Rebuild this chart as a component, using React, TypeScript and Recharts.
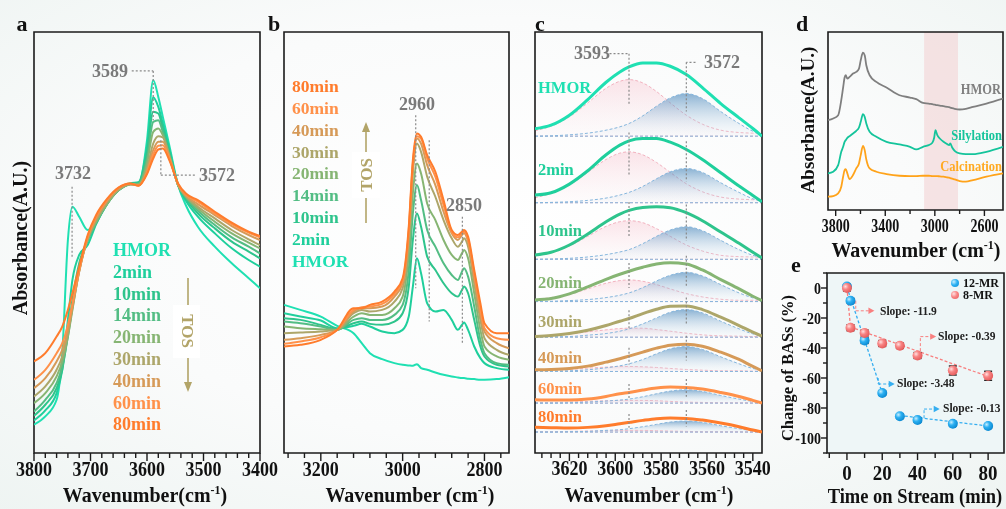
import React from "react";
import {
  ComposedChart,
  LineChart,
  Line,
  Area,
  XAxis,
  YAxis,
  ReferenceLine,
  ReferenceArea,
  ReferenceDot,
  Scatter,
  ErrorBar,
} from "recharts";

const SERIF = "'Liberation Serif', 'Times New Roman', Times, serif";

// ---------- shared series names / colours ----------
const TOS_LABELS = ["HMOR", "2min", "10min", "14min", "20min", "30min", "40min", "60min", "80min"];
const TOS_COLORS = ["#1fe0b2", "#1fcf9c", "#2ec48c", "#53bd84", "#86b573", "#ada66a", "#d69a58", "#ff914a", "#ff7c2c"];

// ---------- panel a : OH region (3800-3400) ----------
const WN_A = [3800, 3780, 3760, 3750, 3740, 3732, 3720, 3705, 3690, 3670, 3650, 3630, 3615, 3600, 3589, 3580, 3572, 3560, 3545, 3530, 3510, 3480, 3450, 3420, 3400];
const A_HMOR = [8.5, 11, 16, 30, 64, 74, 71, 67, 70, 75.5, 79, 81, 80.8, 94, 112, 107, 101, 92, 80.5, 74, 68, 62, 57, 52.5, 49.5];
const A_2 = [9.8, 12.8, 18, 25, 40, 52, 59.5, 62.5, 68.8, 75, 79, 81, 81.4, 92, 106.8, 104, 99, 91, 80.5, 75.5, 71, 66, 61.5, 58, 56];
const A_10 = [11.2, 14.5, 19.5, 25, 36, 46, 57, 64, 69, 75, 79, 80.8, 81.2, 90, 102.5, 102, 97.5, 90, 80.5, 76.2, 72, 67.5, 63.5, 60.5, 58.5];
const A_14 = [12.5, 16, 21, 26, 35, 44, 56, 64, 69.2, 75, 79, 80.8, 81, 88.5, 99.5, 100, 96.5, 89.5, 80.5, 76.5, 72.8, 68.5, 64.8, 62, 60];
const A_20 = [15, 18, 23, 27.5, 35, 43, 55, 64, 69.5, 75, 79, 80.7, 80.8, 87, 96.5, 97.5, 95.5, 89, 80.5, 76.8, 73.5, 69.5, 66, 63.2, 61.5];
const A_30 = [17, 20, 25, 29, 36, 43.5, 54.5, 64.5, 70, 75.5, 79.2, 80.7, 80.5, 85.5, 93, 95.2, 94.8, 89, 80.5, 77, 74, 70.5, 67, 64.2, 62.5];
const A_40 = [19.5, 22.5, 27.5, 31, 37, 44, 54.5, 64.8, 70.5, 76, 79.5, 80.8, 80.4, 84.8, 91, 93.5, 93.5, 88.5, 80.7, 77.2, 74.8, 71.5, 68.2, 65.5, 64];
const A_60 = [22, 25, 30, 33, 38.5, 44.8, 54.8, 65, 71, 76.2, 79.7, 81, 80.4, 84.2, 89.7, 92.3, 92.5, 88.2, 80.8, 77.5, 75.5, 72, 68.8, 66.2, 64.8];
const A_80 = [27.5, 30, 35, 38, 43, 48, 56, 65.5, 71.5, 76.5, 79.8, 81, 80.3, 83.8, 88.5, 91.2, 91.5, 87.8, 81, 77.8, 76, 72.5, 69.2, 66.5, 65.2];
const TICKS_A = [3800, 3780, 3760, 3740, 3720, 3700, 3680, 3660, 3640, 3620, 3600, 3580, 3560, 3540, 3520, 3500, 3480, 3460, 3440, 3420, 3400];

// ---------- panel b : CH region ----------
const WN_B = [3290, 3250, 3200, 3160, 3120, 3100, 3080, 3050, 3020, 3000, 2985, 2975, 2965, 2955, 2940, 2920, 2900, 2880, 2865, 2855, 2850, 2840, 2825, 2810, 2800, 2770, 2740];
const B_HMOR = [44.5, 43, 41, 38.2, 36, 33, 30, 28.2, 27, 26.5, 26.3, 26.2, 26.7, 25.5, 25, 24.2, 23.5, 23, 22.7, 22.5, 22.5, 22.3, 22.2, 22, 22, 22.2, 22.8];
const B_2 = [42, 41, 39.8, 37.5, 38.2, 38.8, 38, 36.5, 36, 37, 41, 50, 58.5, 54, 45, 42.5, 43, 40, 37, 38.5, 39.2, 37, 32, 28.5, 27, 25.5, 25];
const B_10 = [40.5, 40, 38.5, 37.2, 39, 39.5, 38.8, 38.5, 39.5, 42, 50, 64, 72, 68, 59, 55, 51, 48, 47, 49, 50, 48, 40, 32, 29, 26.5, 26];
const B_14 = [39.5, 39, 38, 37, 40, 40.5, 40, 40, 41.5, 44.5, 55, 72, 80.5, 76, 67, 62, 57, 53.5, 52, 54.5, 55.5, 53, 44, 34, 30, 27, 26.5];
const B_20 = [38, 37.5, 37.2, 37, 41, 42, 41.5, 41.5, 43.5, 47, 60, 78, 87, 84, 75, 70, 64, 59.5, 58, 60, 61, 58.5, 48, 37, 32, 29, 28];
const B_30 = [36, 36.2, 36.5, 37, 42, 43, 42.5, 43, 45.5, 49.5, 64, 84, 93, 90.5, 83, 77, 70, 64.5, 62, 63.5, 64.5, 62, 51, 40, 34.5, 31, 29.5];
const B_40 = [34, 34.5, 35.5, 37, 42.5, 43.5, 43.5, 44, 47, 51, 66, 86, 94.5, 93, 86.5, 80.5, 72.5, 66, 64, 65.5, 66, 63.5, 53, 42, 36.5, 33, 31.5];
const B_60 = [32.8, 33.5, 34.8, 37, 43, 43.8, 44, 44.8, 47.8, 51.8, 67, 87, 95.2, 94.5, 88.5, 83, 74.5, 66.5, 64.8, 66, 66.5, 64.2, 54, 43.5, 37.5, 34.5, 34];
const B_80 = [32, 32.5, 34, 37, 43.5, 43.5, 44.5, 45.5, 48.5, 52.5, 68, 88, 96, 95, 89.5, 84.5, 76, 67, 65.5, 66.5, 67, 65, 55, 45, 39, 36, 36];
const TICKS_B = [3280, 3240, 3200, 3160, 3120, 3080, 3040, 3000, 2960, 2920, 2880, 2840, 2800, 2760];

// ---------- panel c : deconvoluted bands ----------
const WN_C = [3635, 3628, 3620, 3612, 3604, 3598, 3594, 3588, 3582, 3576, 3569, 3562, 3554, 3546, 3540, 3536];
const C_ROWS = ["HMOR", "2min", "10min", "20min", "30min", "40min", "60min", "80min"];
const C_COLORS = ["#1fe0b2", "#1fcf9c", "#2ec48c", "#86b573", "#ada66a", "#d69a58", "#ff914a", "#ff7c2c"];
const C_BASE = [95.2, 75.2, 58.2, 45.5, 34.8, 24.5, 15, 6.3];
const C_MAIN = [
  [2.2, 3.3, 6.3, 11.0, 16.2, 19.3, 20.8, 22.0, 22.0, 21.0, 18.5, 14.6, 9.8, 5.5, 2.3, 0],
  [2.3, 3.0, 5.6, 9.6, 14.4, 17.3, 18.6, 19.3, 19.3, 18.2, 16.0, 13.0, 9.0, 5.0, 2.2, 0.3],
  [1.3, 2.1, 4.3, 7.6, 11.3, 13.6, 14.7, 15.6, 15.8, 15.5, 14.0, 11.6, 8.2, 4.8, 2.1, 0.4],
  [0.5, 0.9, 2.3, 4.4, 6.7, 8.2, 9.1, 10.3, 11.3, 11.7, 11.3, 9.5, 6.6, 3.8, 1.6, 0.3],
  [0.2, 0.5, 1.1, 2.1, 3.5, 4.8, 5.6, 7.1, 8.4, 9.3, 9.4, 8.3, 6.0, 3.5, 1.5, 0.3],
  [0.5, 0.6, 0.9, 1.6, 2.8, 3.8, 4.6, 5.8, 7.0, 7.9, 8.2, 7.6, 5.8, 3.6, 1.5, 0.2],
  [1.0, 0.9, 0.9, 1.2, 2.0, 2.8, 3.2, 3.9, 4.5, 4.8, 4.7, 4.2, 3.2, 2.0, 0.8, 0],
  [1.4, 1.3, 1.2, 1.4, 1.9, 2.5, 2.9, 3.5, 4.0, 4.2, 4.1, 3.6, 2.7, 1.6, 0.6, 0],
];
const C_PINK = [
  [1.6, 3.0, 5.8, 10.0, 14.4, 16.5, 17.0, 16.0, 13.4, 10.0, 6.3, 3.6, 1.8, 1.1, 0.9, 0.8],
  [1.5, 2.8, 5.3, 9.1, 13.0, 14.9, 15.3, 14.4, 12.1, 9.1, 5.7, 3.3, 1.7, 1.1, 0.9, 0.8],
  [1.1, 2.1, 4.0, 6.9, 9.9, 11.3, 11.6, 11.0, 9.2, 6.9, 4.3, 2.5, 1.2, 0.8, 0.7, 0.6],
  [0.6, 1.2, 2.2, 3.8, 5.5, 6.3, 6.5, 6.1, 5.1, 3.8, 2.4, 1.4, 0.7, 0.4, 0.4, 0.3],
  [0.3, 0.6, 1.0, 1.6, 2.2, 2.6, 2.7, 2.7, 2.3, 1.8, 1.2, 0.7, 0.4, 0.3, 0.2, 0.2],
  [0.2, 0.4, 0.6, 1.0, 1.3, 1.5, 1.5, 1.4, 1.2, 0.9, 0.6, 0.4, 0.2, 0.2, 0.1, 0.1],
  [0.1, 0.2, 0.3, 0.5, 0.7, 0.8, 0.8, 0.8, 0.7, 0.5, 0.3, 0.2, 0.1, 0.1, 0.1, 0.1],
  [0.1, 0.1, 0.2, 0.3, 0.4, 0.5, 0.5, 0.5, 0.4, 0.3, 0.2, 0.1, 0.1, 0.1, 0, 0],
];
const C_BLUE = [
  [0, 0.1, 0.4, 0.9, 1.8, 2.8, 3.8, 6.1, 9.0, 11.5, 12.8, 11.3, 7.4, 3.8, 1.5, 0.6],
  [0, 0.1, 0.3, 0.7, 1.4, 2.3, 3.1, 4.9, 7.2, 9.3, 10.3, 9.1, 6.0, 3.1, 1.2, 0.5],
  [0, 0.1, 0.3, 0.7, 1.4, 2.2, 2.9, 4.7, 6.9, 8.8, 9.8, 8.6, 5.7, 2.9, 1.2, 0.5],
  [0, 0.1, 0.3, 0.6, 1.2, 1.9, 2.6, 4.2, 6.2, 7.9, 8.8, 7.7, 5.1, 2.6, 1.1, 0.4],
  [0, 0.1, 0.2, 0.6, 1.1, 1.8, 2.5, 4.0, 5.8, 7.5, 8.3, 7.3, 4.8, 2.5, 1.0, 0.4],
  [0, 0.1, 0.2, 0.5, 1.1, 1.7, 2.3, 3.6, 5.3, 6.8, 7.5, 6.6, 4.4, 2.3, 0.9, 0.4],
  [0, 0, 0.1, 0.3, 0.6, 0.9, 1.2, 1.9, 2.8, 3.6, 4.0, 3.5, 2.3, 1.2, 0.5, 0.2],
  [0, 0, 0.1, 0.2, 0.5, 0.7, 1.0, 1.6, 2.3, 3.0, 3.3, 2.9, 1.9, 1.0, 0.4, 0.2],
];
const TICKS_C = [3632, 3628, 3624, 3620, 3616, 3612, 3608, 3604, 3600, 3596, 3592, 3588, 3584, 3580, 3576, 3572, 3568, 3564, 3560, 3556, 3552, 3548, 3544, 3540];

// ---------- panel d : full spectra ----------
const WN_D = [3862, 3820, 3780, 3755, 3740, 3728, 3719, 3706, 3688, 3660, 3634, 3612, 3598, 3580, 3566, 3553, 3526, 3472, 3390, 3285, 3200, 3150, 3095, 3050, 3020, 3005, 2995, 2980, 2960, 2930, 2900, 2885, 2875, 2860, 2840, 2800, 2750, 2692, 2584, 2450];
const D_HMOR = [27, 27.5, 28.5, 33, 36.8, 39.8, 40.5, 39.5, 40, 41, 41.5, 42.5, 45, 47.3, 46.5, 43.5, 40.5, 38.5, 36.8, 34.5, 33.8, 33.3, 32.2, 32, 31.8, 31.7, 31.6, 31.5, 31.4, 31.2, 31, 30.9, 30.8, 30.6, 30.4, 30.2, 30.4, 31, 32, 33.5];
const D_SIL = [11, 11.5, 13.5, 17.5, 19, 20.5, 21, 21.7, 22.2, 23, 23.8, 24.8, 26.5, 28.8, 28, 26, 23.5, 22, 20.5, 19.7, 19, 18.2, 19, 19.5, 20.2, 21.8, 24, 22.5, 21.5, 20.5, 19.8, 19.5, 20, 18.8, 17.8, 17, 16.8, 16.8, 17.5, 19];
const D_CAL = [4, 4.2, 5, 7, 10, 12, 12.3, 11, 9.3, 10.5, 12.5, 14, 16.5, 19.3, 18, 15.2, 12.5, 11.5, 10.8, 10.3, 10.2, 10.2, 10.3, 10.3, 10.2, 10.2, 10.2, 10.2, 10.1, 10, 9.8, 9.7, 9.6, 9.4, 9.2, 8.7, 8.5, 9, 10, 11];
const TICKS_D = [3800, 3600, 3400, 3200, 3000, 2800, 2600];

// ---------- panel e : BAS change ----------
const TIME = [0, 2, 10, 20, 30, 40, 60, 80];
const MR12 = [1, -8.5, -35, -70, -85.5, -88, -90.5, -92];
const MR12_ERR = [1.5, 1.5, 2, 1.5, 1.5, 1.5, 1.5, 1.5];
const MR8 = [0, -26.5, -30, -37, -38.5, -45, -55, -58.5];
const MR8_ERR = [2, 2, 2, 2, 1.8, 2, 3, 3];
const FIT12_A = [{ t: 0, v: 0.5 }, { t: 20, v: -70 }];
const FIT12_B = [{ t: 30, v: -85 }, { t: 80, v: -92 }];
const FIT8_A = [{ t: 0, v: 0 }, { t: 2, v: -26 }];
const FIT8_B = [{ t: 2, v: -26 }, { t: 80, v: -59 }];
const TICKS_EX = [-10, 0, 10, 20, 30, 40, 50, 60, 70, 80];
const TICKS_EY = [-110, -100, -90, -80, -70, -60, -50, -40, -30, -20, -10, 0, 10];

// ---------- build tables ----------
const A_SERIES = [A_HMOR, A_2, A_10, A_14, A_20, A_30, A_40, A_60, A_80];
const B_SERIES = [B_HMOR, B_2, B_10, B_14, B_20, B_30, B_40, B_60, B_80];
const dataA = WN_A.map((wn, i) => {
  const r: any = { wn };
  A_SERIES.forEach((s, k) => (r["s" + k] = s[i]));
  return r;
});
const dataB = WN_B.map((wn, i) => {
  const r: any = { wn };
  B_SERIES.forEach((s, k) => (r["s" + k] = s[i]));
  return r;
});
const dataC = WN_C.map((wn, i) => {
  const r: any = { wn };
  C_BASE.forEach((b, k) => {
    r["m" + k] = b + C_MAIN[k][i];
    r["p" + k] = [b, b + C_PINK[k][i]];
    r["b" + k] = [b, b + C_BLUE[k][i]];
  });
  return r;
});
const dataD = WN_D.map((wn, i) => ({ wn, hmor: D_HMOR[i], sil: D_SIL[i], cal: D_CAL[i] }));
const dataMR12 = TIME.map((t, i) => ({ t, v: MR12[i], err: MR12_ERR[i] }));
const dataMR8 = TIME.map((t, i) => ({ t, v: MR8[i], err: MR8_ERR[i] }));

// ---------- helpers ----------
const tickX =
  (majorEvery: number, origin: number, size: number, gap: number, sy: number, majorLen = 7, minorLen = 4) =>
  (p: any) => {
    const v = Number(p.payload.value);
    const major = Math.abs((v - origin) % majorEvery) < 1e-6;
    return (
      <g>
        <line x1={p.x} x2={p.x} y1={p.y} y2={p.y + (major ? majorLen : minorLen)} stroke="#1b1b1b" strokeWidth={1.4} />
        {major && (
          <text
            transform={`translate(${p.x},${p.y + gap}) scale(1,${sy})`}
            textAnchor="middle"
            dominantBaseline="central"
            fontFamily={SERIF}
            fontWeight={700}
            fontSize={size}
            fill="#111"
          >
            {v}
          </text>
        )}
      </g>
    );
  };

const tickYE = (p: any) => {
  const v = Number(p.payload.value);
  const major = v % 20 === 0 && v <= 0 && v >= -100;
  return (
    <g>
      <line x1={p.x} x2={p.x - (major ? 6 : 4)} y1={p.y} y2={p.y} stroke="#1b1b1b" strokeWidth={1.4} />
      {major && (
        <text
          transform={`translate(${p.x - 6},${p.y}) scale(1,1.2)`}
          textAnchor="end"
          dominantBaseline="central"
          fontFamily={SERIF}
          fontWeight={700}
          fontSize={14}
          fill="#111"
        >
          {v}
        </text>
      )}
    </g>
  );
};

const arrowHead = (color: string) => (p: any) =>
  <path d={`M${p.cx - 5},${p.cy - 3.2}L${p.cx + 1},${p.cy}L${p.cx - 5},${p.cy + 3.2}Z`} fill={color} />;

type LP = {
  x: number;
  y: number;
  size: number;
  color?: string;
  anchor?: "start" | "middle" | "end";
  rotate?: number;
  sy?: number;
  children: React.ReactNode;
};
const Label = ({ x, y, size, color = "#111", anchor = "middle", rotate = 0, sy = 1, children }: LP) => {
  const tx = anchor === "start" ? "0%" : anchor === "end" ? "-100%" : "-50%";
  return (
    <div
      style={{
        position: "absolute",
        left: x,
        top: y,
        transform: `translate(${tx}, -50%) rotate(${rotate}deg) scale(1, ${sy})`,
        fontFamily: SERIF,
        fontWeight: 700,
        fontSize: size,
        color,
        whiteSpace: "nowrap",
        lineHeight: 1,
      }}
    >
      {children}
    </div>
  );
};

const Cm = ({ space = true }: { space?: boolean }) => (
  <>
    Wavenumber{space ? " " : ""}(cm<span style={{ fontSize: "0.6em", verticalAlign: "0.65em" }}>-1</span>)
  </>
);

const DOT = { stroke: "#8a8a8a", strokeDasharray: "2 2", strokeWidth: 1.2, ifOverflow: "visible" as const };
const FRAME = { fill: "none", stroke: "#1b1b1b", strokeWidth: 1.6, ifOverflow: "visible" as const };

const App = () => {
  return (
    <div
      style={{
        position: "fixed",
        left: 0,
        top: 0,
        width: 1006,
        height: 509,
        overflow: "hidden",
        background: "radial-gradient(ellipse 75% 75% at 50% 45%, #ffffff 0%, #fafbfb 55%, #eef4f2 100%)",
      }}
    >
      {/* panel e plot background */}
      <div style={{ position: "absolute", left: 827, top: 273, width: 177, height: 180, background: "#eef6f7" }} />

      {/* ---------- a ---------- */}
      <div style={{ position: "absolute", left: 0, top: 0 }}>
        <LineChart width={290} height={509} data={dataA} margin={{ top: 32, left: 34, right: 30, bottom: 0 }}>
          <XAxis
            type="number"
            dataKey="wn"
            domain={[3400, 3800]}
            reversed
            allowDataOverflow
            ticks={TICKS_A}
            interval={0}
            tickLine={false}
            axisLine={false}
            tickSize={0}
            tickMargin={0}
            height={56}
            tick={tickX(100, 3400, 18, 16, 1.15, 8, 5)}
          />
          <YAxis hide type="number" domain={[0, 126.5]} allowDataOverflow />
          {TOS_LABELS.map((n, k) => (
            <Line key={n} type="monotone" dataKey={"s" + k} stroke={TOS_COLORS[k]} strokeWidth={2} dot={false} activeDot={false} isAnimationActive={false} />
          ))}
          <ReferenceLine segment={[{ x: 3627, y: 114.8 }, { x: 3589, y: 114.8 }]} {...DOT} />
          <ReferenceLine segment={[{ x: 3589, y: 114.8 }, { x: 3589, y: 100 }]} {...DOT} />
          <ReferenceLine segment={[{ x: 3575.5, y: 94 }, { x: 3575.5, y: 83.5 }]} {...DOT} />
          <ReferenceLine segment={[{ x: 3575.5, y: 83.5 }, { x: 3512, y: 83.5 }]} {...DOT} />
          <ReferenceLine segment={[{ x: 3732.6, y: 80 }, { x: 3732.6, y: 58.5 }]} {...DOT} />
          <ReferenceArea x1={3400} x2={3800} y1={0} y2={126.5} {...FRAME} />
        </LineChart>
      </div>

      {/* ---------- b ---------- */}
      <div style={{ position: "absolute", left: 270, top: 0 }}>
        <LineChart width={259} height={509} data={dataB} margin={{ top: 32, left: 14, right: 20, bottom: 0 }}>
          <XAxis
            type="number"
            dataKey="wn"
            domain={[2740, 3290]}
            reversed
            allowDataOverflow
            ticks={TICKS_B}
            interval={0}
            tickLine={false}
            axisLine={false}
            tickSize={0}
            tickMargin={0}
            height={56}
            tick={tickX(200, 2800, 18, 16, 1.15, 8, 5)}
          />
          <YAxis hide type="number" domain={[0, 126.5]} allowDataOverflow />
          {TOS_LABELS.map((n, k) => (
            <Line key={n} type="monotone" dataKey={"s" + k} stroke={TOS_COLORS[k]} strokeWidth={2} dot={false} activeDot={false} isAnimationActive={false} />
          ))}
          <ReferenceLine segment={[{ x: 2968, y: 101.5 }, { x: 2968, y: 49.5 }]} {...DOT} />
          <ReferenceLine segment={[{ x: 2935, y: 94 }, { x: 2935, y: 39.5 }]} {...DOT} />
          <ReferenceLine segment={[{ x: 2854, y: 71 }, { x: 2854, y: 32.5 }]} {...DOT} />
          <ReferenceArea x1={2740} x2={3290} y1={0} y2={126.5} {...FRAME} />
        </LineChart>
      </div>

      {/* ---------- c ---------- */}
      <div style={{ position: "absolute", left: 525, top: 0 }}>
        <ComposedChart width={257} height={509} data={dataC} margin={{ top: 32, left: 10, right: 20, bottom: 0 }}>
          <defs>
            <linearGradient id="pinkFill" x1="0" y1="0" x2="0" y2="1">
              <stop offset="0%" stopColor="#f8c3cf" stopOpacity={0.75} />
              <stop offset="100%" stopColor="#fbe8ec" stopOpacity={0.2} />
            </linearGradient>
            <linearGradient id="blueFill" x1="0" y1="0" x2="0" y2="1">
              <stop offset="0%" stopColor="#3479b3" stopOpacity={0.95} />
              <stop offset="100%" stopColor="#dce9f4" stopOpacity={0.15} />
            </linearGradient>
          </defs>
          <XAxis
            type="number"
            dataKey="wn"
            domain={[3536, 3635]}
            reversed
            allowDataOverflow
            ticks={TICKS_C}
            interval={0}
            tickLine={false}
            axisLine={false}
            tickSize={0}
            tickMargin={0}
            height={56}
            tick={tickX(20, 3540, 18, 15, 1.15, 8, 5)}
          />
          <YAxis hide type="number" domain={[0, 126.5]} allowDataOverflow />
          {C_ROWS.map((n, k) => (
            <Area
              key={"p" + n}
              type="monotone"
              dataKey={"p" + k}
              fill="url(#pinkFill)"
              stroke="#f2b3c0"
              strokeDasharray="3 2"
              strokeWidth={1}
              dot={false}
              activeDot={false}
              isAnimationActive={false}
            />
          ))}
          {C_ROWS.map((n, k) => (
            <Area
              key={"b" + n}
              type="monotone"
              dataKey={"b" + k}
              fill="url(#blueFill)"
              stroke="#86b6dd"
              strokeDasharray="3 2"
              strokeWidth={1}
              dot={false}
              activeDot={false}
              isAnimationActive={false}
            />
          ))}
          {C_ROWS.map((n, k) => (
            <Line key={"m" + n} type="monotone" dataKey={"m" + k} stroke={C_COLORS[k]} strokeWidth={3} dot={false} activeDot={false} isAnimationActive={false} />
          ))}
          {C_ROWS.map((n, k) => {
            const b = C_BASE[k];
            const h1 = C_MAIN[k][6];
            const h2 = C_MAIN[k][10];
            return (
              <React.Fragment key={"g" + n}>
                <ReferenceLine segment={[{ x: 3594, y: k === 0 ? 120 : b + h1 + 2.5 }, { x: 3594, y: b + 0.45 * h1 }]} {...DOT} />
                <ReferenceLine segment={[{ x: 3569, y: k === 0 ? 117.4 : b + h2 + 2.5 }, { x: 3569, y: b + 0.4 * h2 }]} {...DOT} />
              </React.Fragment>
            );
          })}
          <ReferenceLine segment={[{ x: 3602.5, y: 120 }, { x: 3594, y: 120 }]} {...DOT} />
          <ReferenceLine segment={[{ x: 3565, y: 117.4 }, { x: 3569, y: 117.4 }]} {...DOT} />
          <ReferenceArea x1={3536} x2={3635} y1={0} y2={126.5} {...FRAME} />
        </ComposedChart>
      </div>

      {/* ---------- d ---------- */}
      <div style={{ position: "absolute", left: 800, top: 0 }}>
        <LineChart width={206} height={260} data={dataD} margin={{ top: 32, left: 28, right: 3, bottom: 0 }}>
          <XAxis
            type="number"
            dataKey="wn"
            domain={[2450, 3862]}
            reversed
            allowDataOverflow
            ticks={TICKS_D}
            interval={0}
            tickLine={false}
            axisLine={false}
            tickSize={0}
            tickMargin={0}
            height={50}
            tick={tickX(400, 3800, 14, 16, 1.3, 6, 4)}
          />
          <YAxis hide type="number" domain={[0, 53.5]} allowDataOverflow />
          <ReferenceArea x1={2813} x2={3087} y1={0} y2={53.5} fill="#f3cfd2" fillOpacity={0.55} stroke="none" />
          <Line type="monotone" dataKey="hmor" stroke="#7f7f7f" strokeWidth={1.8} dot={false} activeDot={false} isAnimationActive={false} />
          <Line type="monotone" dataKey="sil" stroke="#14c49b" strokeWidth={1.8} dot={false} activeDot={false} isAnimationActive={false} />
          <Line type="monotone" dataKey="cal" stroke="#ffa31a" strokeWidth={1.8} dot={false} activeDot={false} isAnimationActive={false} />
          <ReferenceArea x1={2450} x2={3862} y1={0} y2={53.5} {...FRAME} />
        </LineChart>
      </div>

      {/* ---------- e ---------- */}
      <div style={{ position: "absolute", left: 780, top: 250 }}>
        <ComposedChart width={226} height={259} margin={{ top: 23, left: 0, right: 2, bottom: 0 }}>
          <defs>
            <radialGradient id="gBlue" cx="35%" cy="35%" r="65%">
              <stop offset="0%" stopColor="#c8efff" />
              <stop offset="45%" stopColor="#2cb0f2" />
              <stop offset="100%" stopColor="#0d8cd4" />
            </radialGradient>
            <radialGradient id="gRed" cx="35%" cy="35%" r="65%">
              <stop offset="0%" stopColor="#ffe0e0" />
              <stop offset="45%" stopColor="#f88484" />
              <stop offset="100%" stopColor="#e65d5d" />
            </radialGradient>
          </defs>
          <XAxis
            type="number"
            dataKey="t"
            domain={[-11.3, 89]}
            allowDataOverflow
            ticks={TICKS_EX}
            interval={0}
            tickLine={false}
            axisLine={false}
            tickSize={0}
            tickMargin={0}
            height={56}
            tick={tickX(20, 0, 19, 20, 1.15, 7, 5)}
          />
          <YAxis
            type="number"
            domain={[-110, 10]}
            allowDataOverflow
            ticks={TICKS_EY}
            interval={0}
            tickLine={false}
            axisLine={false}
            tickSize={0}
            tickMargin={0}
            width={47}
            tick={tickYE}
          />
          <Line data={FIT12_A} dataKey="v" stroke="#35aef0" strokeWidth={1.3} strokeDasharray="3 2" dot={false} activeDot={false} isAnimationActive={false} />
          <Line data={FIT12_B} dataKey="v" stroke="#35aef0" strokeWidth={1.3} strokeDasharray="3 2" dot={false} activeDot={false} isAnimationActive={false} />
          <Line data={FIT8_A} dataKey="v" stroke="#f87f7f" strokeWidth={1.3} strokeDasharray="3 2" dot={false} activeDot={false} isAnimationActive={false} />
          <Line data={FIT8_B} dataKey="v" stroke="#f87f7f" strokeWidth={1.3} strokeDasharray="3 2" dot={false} activeDot={false} isAnimationActive={false} />
          <Scatter
            data={dataMR12}
            dataKey="v"
            isAnimationActive={false}
            shape={(p: any) => <circle cx={p.cx} cy={p.cy} r={5} fill="url(#gBlue)" />}
          >
            <ErrorBar dataKey="err" direction="y" width={4} stroke="#111" strokeWidth={1.3} />
          </Scatter>
          <Scatter
            data={dataMR8}
            dataKey="v"
            isAnimationActive={false}
            shape={(p: any) => <circle cx={p.cx} cy={p.cy} r={5} fill="url(#gRed)" />}
          >
            <ErrorBar dataKey="err" direction="y" width={4} stroke="#111" strokeWidth={1.3} />
          </Scatter>
          {/* slope call-outs */}
          <ReferenceLine segment={[{ x: 5, y: -8.5 }, { x: 5, y: -15.2 }]} stroke="#f87f7f" strokeDasharray="3 2" ifOverflow="visible" />
          <ReferenceLine segment={[{ x: 5, y: -15.2 }, { x: 14, y: -15.2 }]} stroke="#f87f7f" strokeDasharray="3 2" ifOverflow="visible" />
          <ReferenceDot x={15} y={-15.2} r={3} ifOverflow="visible" shape={arrowHead("#f87f7f")} />
          <ReferenceLine segment={[{ x: 41.6, y: -45.4 }, { x: 41.6, y: -32.4 }]} stroke="#f87f7f" strokeDasharray="3 2" ifOverflow="visible" />
          <ReferenceLine segment={[{ x: 41.6, y: -32.4 }, { x: 49, y: -32.4 }]} stroke="#f87f7f" strokeDasharray="3 2" ifOverflow="visible" />
          <ReferenceDot x={50} y={-32.4} r={3} ifOverflow="visible" shape={arrowHead("#f87f7f")} />
          <ReferenceLine segment={[{ x: 17.7, y: -60 }, { x: 17.7, y: -64 }]} stroke="#35aef0" strokeDasharray="3 2" ifOverflow="visible" />
          <ReferenceLine segment={[{ x: 17.7, y: -64 }, { x: 25.5, y: -64 }]} stroke="#35aef0" strokeDasharray="3 2" ifOverflow="visible" />
          <ReferenceDot x={26.5} y={-64} r={3} ifOverflow="visible" shape={arrowHead("#35aef0")} />
          <ReferenceLine segment={[{ x: 43.7, y: -86.8 }, { x: 43.7, y: -80.7 }]} stroke="#35aef0" strokeDasharray="3 2" ifOverflow="visible" />
          <ReferenceLine segment={[{ x: 43.7, y: -80.7 }, { x: 51, y: -80.7 }]} stroke="#35aef0" strokeDasharray="3 2" ifOverflow="visible" />
          <ReferenceDot x={52} y={-80.7} r={3} ifOverflow="visible" shape={arrowHead("#35aef0")} />
          <ReferenceArea x1={-11.3} x2={89} y1={-110} y2={10} {...FRAME} />
        </ComposedChart>
      </div>

      {/* ---------- TOS arrows ---------- */}
      <svg style={{ position: "absolute", left: 0, top: 0 }} width={1006} height={509}>
        <line x1={188} y1={278} x2={188} y2={384} stroke="#b2a468" strokeWidth={1.6} />
        <path d="M184,382 L188,392 L192,382 Z" fill="#b2a468" />
        <rect x={173} y={305} width={27} height={53} fill="#ffffff" />
        <line x1={366} y1={130} x2={366} y2={223} stroke="#b2a468" strokeWidth={1.6} />
        <path d="M362,132 L366,122 L370,132 Z" fill="#b2a468" />
        <rect x={352} y={152} width={28} height={46} fill="#ffffff" />
      </svg>
      <Label x={187} y={331} size={17} color="#b2a468" rotate={90}>TOS</Label>
      <Label x={366} y={175} size={17} color="#b2a468" rotate={-90}>TOS</Label>

      {/* ---------- panel letters ---------- */}
      <Label x={22} y={24} size={22}>a</Label>
      <Label x={274} y={24} size={22}>b</Label>
      <Label x={540} y={24} size={22}>c</Label>
      <Label x={802} y={24} size={22}>d</Label>
      <Label x={796} y={265} size={22}>e</Label>

      {/* ---------- axis titles ---------- */}
      <Label x={20} y={238} size={20} rotate={-90}>Absorbance(A.U.)</Label>
      <Label x={145} y={494} size={20} sy={1.1}><Cm space={false} /></Label>
      <Label x={410} y={494} size={20} sy={1.1}><Cm /></Label>
      <Label x={649} y={494} size={20} sy={1.1}><Cm /></Label>
      <Label x={807} y={120} size={19} rotate={-90}>Absorbance(A.U.)</Label>
      <Label x={916} y={249} size={20} sy={1.1}><Cm /></Label>
      <Label x={788} y={368} size={16.5} rotate={-90}>Change of BASs (%)</Label>
      <Label x={915} y={497} size={18.5} sy={1.1}>Time on Stream (min)</Label>

      {/* ---------- a annotations / legend ---------- */}
      <Label x={110} y={71} size={18} color="#7a7a7a">3589</Label>
      <Label x={217} y={175} size={18} color="#7a7a7a">3572</Label>
      <Label x={73} y={173} size={18} color="#7a7a7a">3732</Label>
      {TOS_LABELS.map((n, k) => (
        <Label key={"la" + n} x={113} y={250 + k * 21.8} size={18} color={TOS_COLORS[k]} anchor="start">{n}</Label>
      ))}

      {/* ---------- b annotations / legend ---------- */}
      <Label x={417} y={104} size={18} color="#7a7a7a">2960</Label>
      <Label x={464} y={205} size={18} color="#7a7a7a">2850</Label>
      {TOS_LABELS.map((n, k) => (
        <Label key={"lb" + n} x={292} y={262 - k * 21.9} size={17.5} color={TOS_COLORS[k]} anchor="start">{n}</Label>
      ))}

      {/* ---------- c annotations / labels ---------- */}
      <Label x={592} y={53} size={18} color="#7a7a7a">3593</Label>
      <Label x={722} y={62} size={18} color="#7a7a7a">3572</Label>
      {C_ROWS.map((n, k) => (
        <Label key={"lc" + n} x={538} y={[88, 170, 231, 283, 322, 358, 389, 417][k]} size={16.5} color={C_COLORS[k]} anchor="start">{n}</Label>
      ))}

      {/* ---------- d labels ---------- */}
      <Label x={1001} y={90} size={12.5} color="#808080" anchor="end" sy={1.15}>HMOR</Label>
      <Label x={1002} y={136} size={12.5} color="#14c49b" anchor="end" sy={1.15}>Silylation</Label>
      <Label x={1002} y={167} size={12.5} color="#ffaa22" anchor="end" sy={1.15}>Calcination</Label>

      {/* ---------- e legend / slopes ---------- */}
      <div style={{ position: "absolute", left: 951, top: 279, width: 8, height: 8, borderRadius: 4, background: "radial-gradient(circle at 35% 35%, #c8efff, #2cb0f2 45%, #0d8cd4)" }} />
      <div style={{ position: "absolute", left: 951, top: 291, width: 8, height: 8, borderRadius: 4, background: "radial-gradient(circle at 35% 35%, #ffe0e0, #f88484 45%, #e65d5d)" }} />
      <Label x={963} y={283} size={12} anchor="start">12-MR</Label>
      <Label x={963} y={295} size={12} anchor="start">8-MR</Label>
      <Label x={880} y={312} size={11.5} anchor="start" color="#222">Slope: -11.9</Label>
      <Label x={938} y={337} size={11.5} anchor="start" color="#222">Slope: -0.39</Label>
      <Label x={897} y={384} size={11.5} anchor="start" color="#222">Slope: -3.48</Label>
      <Label x={943} y={409} size={11.5} anchor="start" color="#222">Slope: -0.13</Label>
    </div>
  );
};

export default App;
